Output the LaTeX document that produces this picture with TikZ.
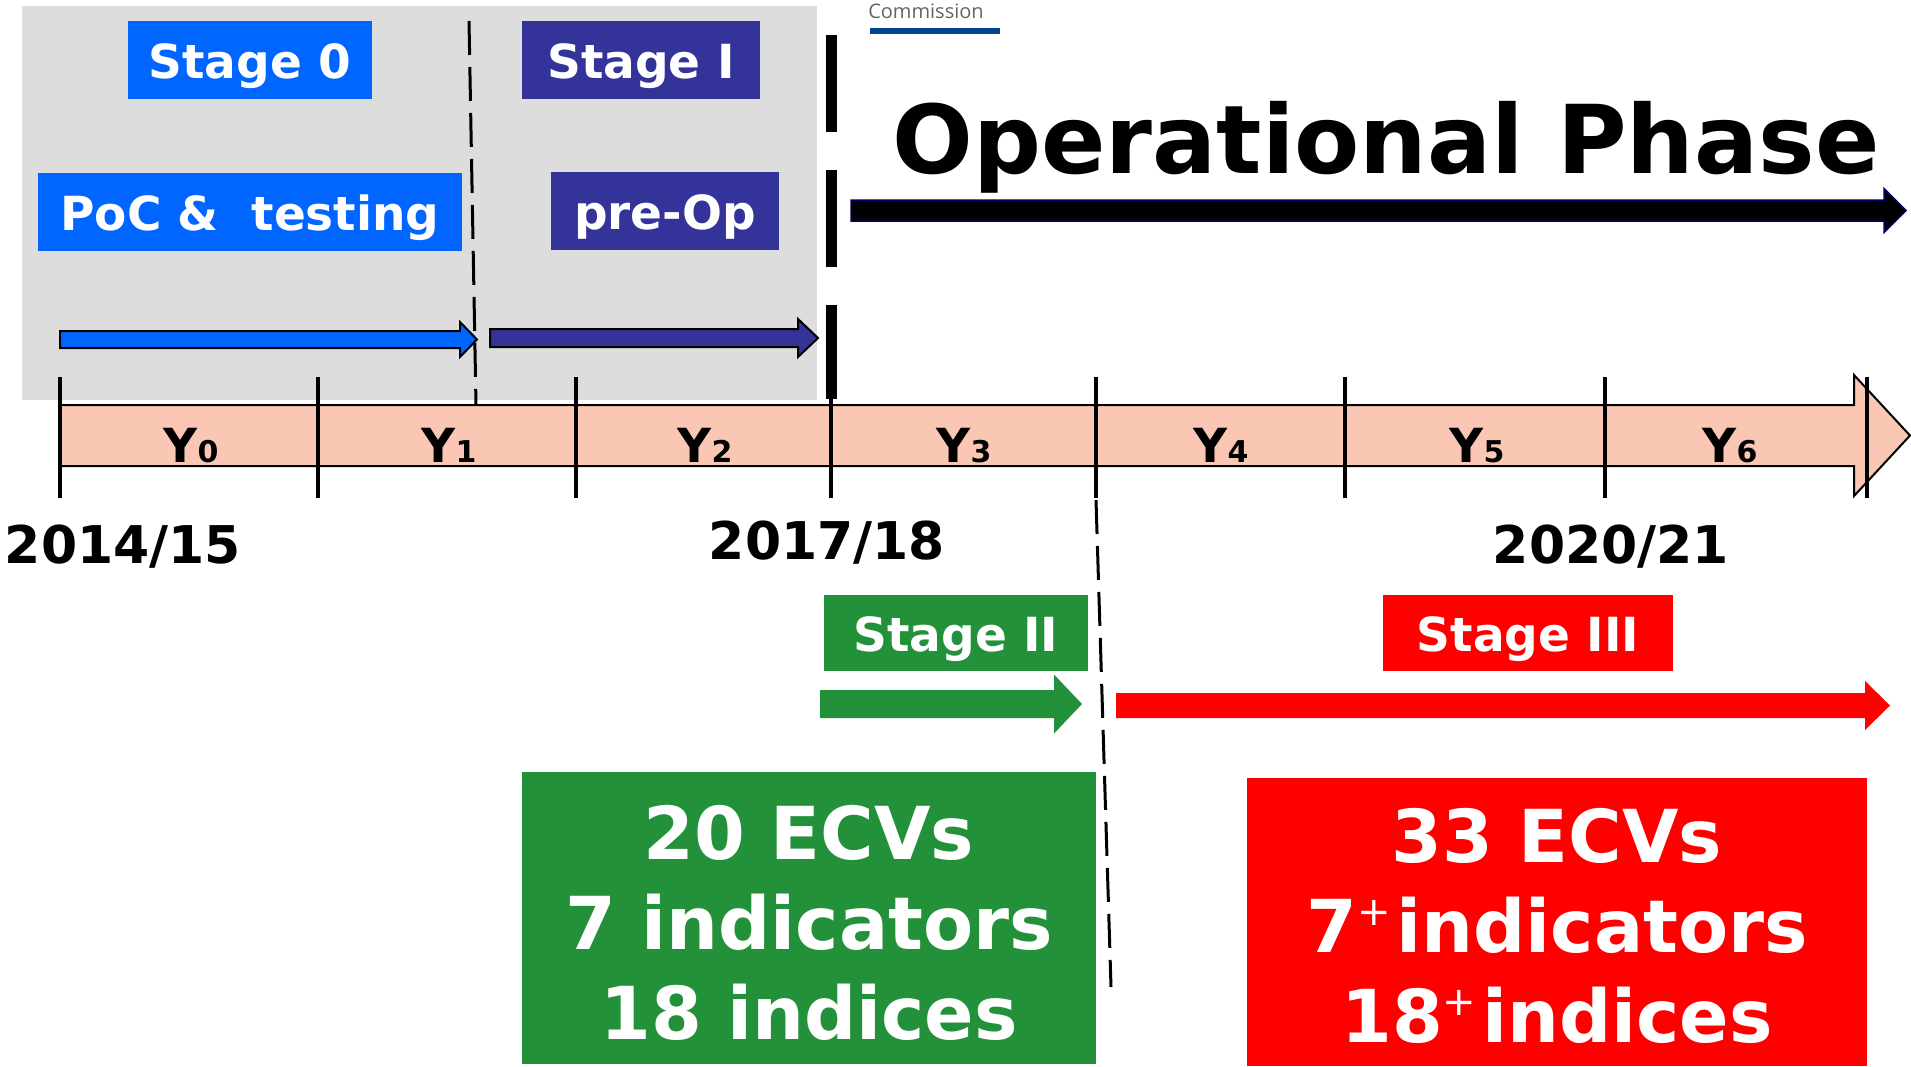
\documentclass[tikz,border=0pt]{standalone}
\usepackage{fontspec}
\setmainfont{DejaVu Sans}
\newfontfamily\ecfont{Open Sans}
\usepackage{tikz}

\definecolor{stagezero}{RGB}{0,102,255}
\definecolor{stageone}{RGB}{51,51,153}
\definecolor{stagetwo}{RGB}{34,145,58}
\definecolor{stagethree}{RGB}{255,0,0}
\definecolor{bandpink}{RGB}{249,199,180}
\definecolor{bggray}{RGB}{221,221,221}
\definecolor{ecblue}{RGB}{0,68,148}
\definecolor{ecgray}{RGB}{100,100,100}
\definecolor{opnavy}{RGB}{0,0,102}

% #1 style, #2 start x, #3 head base x, #4 tip x, #5 mid y, #6 half body, #7 half head
\newcommand{\blockarrow}[7][]{%
  \path[#1] (#2,#5-#6) -- (#3,#5-#6) -- (#3,#5-#7) -- (#4,#5)
    -- (#3,#5+#7) -- (#3,#5+#6) -- (#2,#5+#6) -- cycle;}
\newcommand{\supplus}{\raisebox{27pt}{\mdseries\fontsize{40}{40}\selectfont +}}

\tikzset{
  stagebox/.style={fill=#1, text=white, inner sep=0pt, minimum height=78pt,
    text height=37pt, text depth=0pt, font=\bfseries\fontsize{47}{56}\selectfont},
  countbox/.style={fill=#1, text=white, inner sep=0pt, align=center,
    font=\bfseries\fontsize{73}{90}\selectfont},
  tick/.style={line width=4pt},
  cutline/.style={line width=3pt, dash pattern=on 34pt off 12pt},
  yearlabel/.style={anchor=base, font=\bfseries\fontsize{52}{60}\selectfont},
  ylabel/.style={anchor=base, font=\bfseries\fontsize{47}{56}\selectfont}
}

\begin{document}
\begin{tikzpicture}[x=1pt,y=-1pt]
\useasboundingbox (0,0) rectangle (1911,1066);
\fill[bggray] (22,6) rectangle (817,400);

\node[anchor=base, text=ecgray, font=\ecfont\fontsize{20}{22}\selectfont] (commission) at (926,18) {Commission};
\fill[ecblue] (870,28) rectangle (1000,34);

% early stages
\node[stagebox=stagezero, minimum width=244pt] (stage0) at (250,60) {Stage 0};
\node[stagebox=stageone, minimum width=238pt] (stage1) at (641,60) {Stage I};
\node[stagebox=stagezero, minimum width=424pt] (poc) at (250,212) {PoC \&\ \ testing};
\node[stagebox=stageone, minimum width=228pt] (preop) at (665,211) {pre-Op};
\blockarrow[fill=stagezero, draw=black, line width=2pt]{60}{460}{477}{339.5}{8.5}{17.5}
\blockarrow[fill=stageone, draw=black, line width=2pt]{490}{798}{818}{338}{9}{19}

% operational phase
\node[anchor=base, font=\bfseries\fontsize{95}{110}\selectfont] (opphase) at (1386,173) {Operational Phase};
\blockarrow[fill=black, draw=opnavy, line width=1.5pt]{851}{1884}{1906}{210.5}{10.5}{22}

% timeline
\path[fill=bandpink, draw=black, line width=2pt] (60,405) -- (1854,405) -- (1854,375)
  -- (1910,435.5) -- (1854,496) -- (1854,466) -- (60,466) -- cycle;
\foreach \x in {60,318,576,831,1096,1345,1605,1867}
  \draw[tick] (\x,377) -- (\x,498);
\foreach \x [count=\i from 0] in {191,449,705,964,1221,1477,1730}
  \node[ylabel] (y\i) at (\x,462) {Y{\fontsize{30}{36}\selectfont\i}};
\draw[line width=11pt, dash pattern=on 97pt off 38pt] (831,35) -- (831,399);
\draw[cutline] (469,21) -- (476,405);
\draw[cutline] (1096,500) -- (1111,987);

\node[yearlabel] (yr1415) at (123,563) {2014/15};
\node[yearlabel] (yr1718) at (827,559) {2017/18};
\node[yearlabel] (yr2021) at (1611,563) {2020/21};

% later stages
\node[stagebox=stagetwo, minimum width=264pt, minimum height=76pt] (stage2) at (956,633) {Stage II};
\node[stagebox=stagethree, minimum width=290pt, minimum height=76pt] (stage3) at (1528,633) {Stage III};
\blockarrow[fill=stagetwo]{820}{1054}{1082}{704}{14}{29.5}
\blockarrow[fill=stagethree]{1116}{1865}{1890}{705.5}{12.5}{24.5}

\node[countbox=stagetwo, minimum width=574pt, minimum height=292pt] (counts2) at (809,918) {};
\node[countbox=stagethree, minimum width=620pt, minimum height=288pt] (counts3) at (1557,922) {};
\node[countbox=none, fill=none] (text2) at ([yshift=-5pt]counts2.center)
  {20 ECVs\\7 indicators\\18 indices};
\node[countbox=none, fill=none] (text3) at ([yshift=-4pt]counts3.center)
  {33 ECVs\\7\supplus\hspace{6pt}indicators\\18\supplus\hspace{6pt}indices};
\end{tikzpicture}
\end{document}
